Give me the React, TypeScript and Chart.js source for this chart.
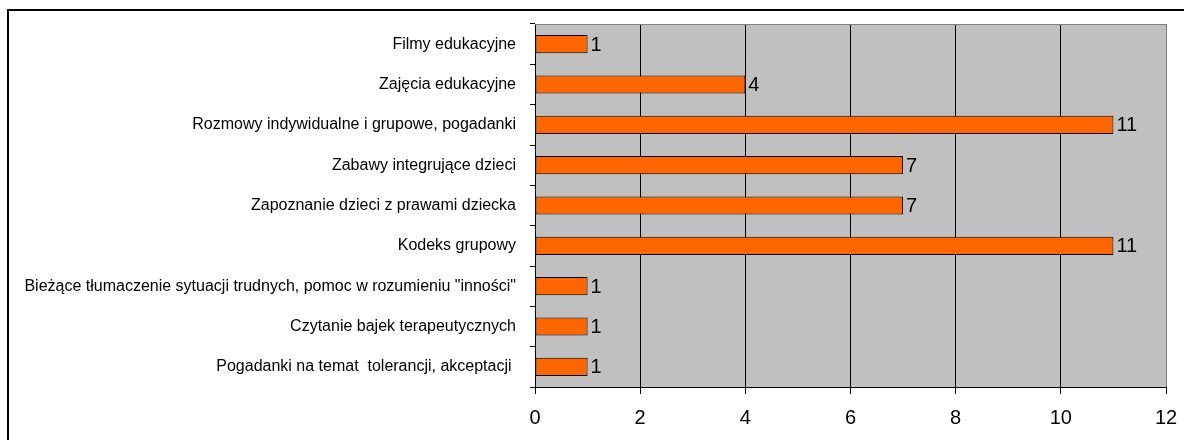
import React, { useEffect, useRef } from "react";
import { Chart, registerables } from "chart.js";

Chart.register(...registerables);

const categories: string[] = [
  "Filmy edukacyjne",
  "Zajęcia edukacyjne",
  "Rozmowy indywidualne i grupowe, pogadanki",
  "Zabawy integrujące dzieci",
  "Zapoznanie dzieci z prawami dziecka",
  "Kodeks grupowy",
  "Bieżące tłumaczenie sytuacji trudnych, pomoc w rozumieniu \"inności\"",
  "Czytanie bajek terapeutycznych",
  "Pogadanki na temat  tolerancji, akceptacji ",
];

const values: number[] = [1, 4, 11, 7, 7, 11, 1, 1, 1];

const xMin = 0;
const xMax = 12;
const xStep = 2;

const FONT = "'Liberation Sans', Arial, sans-serif";

const framePlugin = {
  id: "framePlugin",
  beforeDraw(chart: any) {
    const { ctx, chartArea } = chart;
    ctx.save();
    ctx.fillStyle = "#ffffff";
    ctx.fillRect(0, 0, chart.width, chart.height);
    ctx.fillStyle = "#C0C0C0";
    ctx.fillRect(chartArea.left, chartArea.top, chartArea.right - chartArea.left, chartArea.bottom - chartArea.top);
    ctx.strokeStyle = "#000000";
    ctx.lineWidth = 2;
    ctx.beginPath();
    ctx.moveTo(8, chart.height + 2);
    ctx.lineTo(8, 10);
    ctx.lineTo(chart.width + 2, 10);
    ctx.stroke();
    ctx.restore();
  },
  beforeDatasetsDraw(chart: any) {
    const { ctx, chartArea } = chart;
    ctx.save();
    ctx.strokeStyle = "#808080";
    ctx.lineWidth = 1;
    ctx.beginPath();
    ctx.moveTo(chartArea.left, chartArea.top + 0.5);
    ctx.lineTo(chartArea.right + 0.5, chartArea.top + 0.5);
    ctx.lineTo(chartArea.right + 0.5, chartArea.bottom);
    ctx.stroke();
    ctx.restore();
  },
  afterDatasetsDraw(chart: any) {
    const { ctx } = chart;
    const meta = chart.getDatasetMeta(0);
    ctx.save();
    ctx.fillStyle = "#000000";
    ctx.font = `20px ${FONT}`;
    ctx.textAlign = "left";
    ctx.textBaseline = "middle";
    meta.data.forEach((bar: any, i: number) => {
      ctx.fillText(String(values[i]), bar.x + 3, bar.y + 1);
    });
    ctx.restore();
  },
};

export default function App() {
  const ref = useRef<HTMLCanvasElement | null>(null);

  useEffect(() => {
    document.body.style.margin = "0";
    const canvas = ref.current;
    if (!canvas) return;
    const chart = new Chart(canvas, {
      type: "bar",
      data: {
        labels: categories,
        datasets: [
          {
            data: values,
            backgroundColor: "#FF6600",
            borderColor: "#000000",
            borderWidth: 1,
            borderSkipped: false,
            categoryPercentage: 1,
            barPercentage: 0.45,
          },
        ],
      },
      options: {
        indexAxis: "y",
        animation: false,
        responsive: false,
        maintainAspectRatio: false,
        layout: { padding: { top: 24, right: 18, bottom: 0, left: 0 } },
        plugins: {
          legend: { display: false },
          tooltip: { enabled: false },
        },
        scales: {
          x: {
            type: "linear",
            min: xMin,
            max: xMax,
            ticks: {
              stepSize: xStep,
              color: "#000000",
              font: { family: FONT, size: 20 },
              padding: 12,
              maxRotation: 0,
            },
            grid: {
              color: (c: any) => (c.tick && c.tick.value === xMax ? "#808080" : "#000000"),
              lineWidth: 1,
              drawTicks: true,
              tickLength: 7,
              tickColor: "#000000",
            },
            border: { display: true, color: "#000000" },
            afterFit: (scale: any) => {
              scale.height = 53;
              scale.paddingLeft = 0;
              scale.paddingRight = 0;
            },
          },
          y: {
            type: "category",
            ticks: {
              color: "#000000",
              font: { family: FONT, size: 16 },
              padding: 14,
              autoSkip: false,
            },
            grid: {
              drawOnChartArea: false,
              drawTicks: true,
              tickLength: 5,
              color: "#000000",
              offset: true,
            },
            border: { display: true, color: "#000000" },
            afterFit: (scale: any) => {
              scale.width = 535;
            },
          },
        },
      },
      plugins: [framePlugin],
    });
    return () => chart.destroy();
  }, []);

  return (
    <div style={{ position: "absolute", left: 0, top: 0, width: 1184, height: 440 }}>
      <canvas ref={ref} width={1184} height={440} style={{ display: "block", width: 1184, height: 440 }} />
    </div>
  );
}
